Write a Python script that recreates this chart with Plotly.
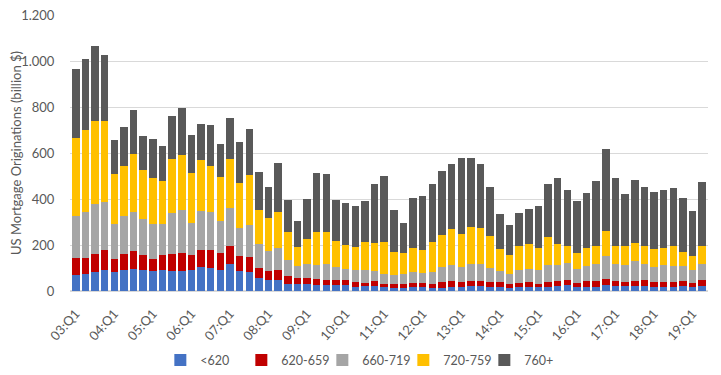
import plotly.graph_objects as go

quarters = [f"{y:02d}:Q{q}" for y in range(3, 20) for q in range(1, 5)][:66]

s_lt620 = [71, 73, 83, 90, 81, 90, 97, 90, 86, 90, 87, 87, 90, 104, 100, 93, 116, 87, 83, 57,
           47, 48, 32, 29, 32, 27, 26, 25, 24, 17, 20, 20, 16, 15, 15, 17, 17, 15, 15, 18,
           17, 20, 20, 17, 17, 15, 17, 17, 17, 17, 20, 25, 17, 17, 17, 25, 22, 20, 20, 22,
           17, 17, 17, 20, 17, 22]
s_620_659 = [72, 70, 77, 87, 60, 70, 76, 65, 55, 65, 73, 78, 65, 73, 77, 72, 78, 64, 65, 43,
             42, 44, 34, 27, 24, 24, 20, 21, 22, 23, 15, 22, 16, 17, 14, 18, 18, 17, 25, 26,
             22, 23, 24, 22, 20, 14, 18, 22, 15, 22, 23, 21, 18, 25, 25, 26, 20, 19, 22, 24,
             22, 22, 22, 23, 18, 24]
s_660_719 = [185, 201, 217, 210, 152, 166, 171, 160, 149, 138, 181, 186, 142, 170, 167, 138, 169, 123, 141, 103,
             87, 95, 67, 52, 60, 62, 70, 58, 51, 50, 56, 45, 44, 36, 44, 46, 43, 49, 65, 68,
             64, 73, 75, 62, 52, 47, 58, 58, 58, 73, 72, 77, 62, 67, 77, 100, 74, 73, 87, 73,
             65, 73, 70, 64, 55, 70]
s_720_759 = [337, 355, 361, 352, 214, 216, 250, 210, 200, 184, 232, 239, 216, 221, 200, 193, 210, 197, 214, 148,
             140, 156, 124, 85, 110, 142, 140, 113, 102, 101, 122, 122, 137, 102, 92, 106, 102, 132, 138, 159,
             144, 162, 154, 138, 93, 79, 103, 106, 97, 123, 88, 73, 68, 78, 77, 110, 80, 84, 80, 77,
             79, 75, 87, 63, 61, 80]
s_760p = [302, 311, 326, 286, 148, 170, 192, 148, 170, 155, 187, 207, 164, 160, 176, 145, 179, 177, 200, 165,
          138, 215, 137, 112, 174, 260, 254, 177, 183, 177, 177, 256, 286, 181, 131, 217, 232, 252, 278, 280,
          330, 299, 278, 212, 152, 131, 143, 152, 181, 230, 287, 242, 225, 239, 281, 355, 294, 224, 272, 255,
          246, 251, 251, 233, 196, 277]

series_names = ["<620", "620-659", "660-719", "720-759", "760+"]
series_vals = [s_lt620, s_620_659, s_660_719, s_720_759, s_760p]
colors = ["#4472C4", "#C00000", "#A5A5A5", "#FFC000", "#595959"]

tick_idx = list(range(0, 66, 4))
tick_text = [quarters[i] for i in tick_idx]

fig = go.Figure()
for name, vals, c in zip(series_names, series_vals, colors):
    fig.add_trace(go.Bar(x=list(range(66)), y=vals, name=name, marker=dict(color=c, line=dict(width=0))))

font = "Lato, 'Open Sans', sans-serif"
# page body has an 8px margin, so the figure is offset by (8, 8)
fig.update_layout(
    barmode="stack",
    bargap=0.22,
    width=713, height=367,
    margin=dict(l=62, r=13, t=7, b=84, autoexpand=False),
    plot_bgcolor="white", paper_bgcolor="white",
    separators=",.",
    font=dict(family=font, size=12, color="#595959"),
    legend=dict(orientation="h", x=0.459, xanchor="center", y=-0.251, yanchor="middle",
                font=dict(size=12.5, color="#595959"), traceorder="normal",
                itemwidth=30, tracegroupgap=0, entrywidth=36, entrywidthmode="pixels"),
    xaxis=dict(tickmode="array", tickvals=tick_idx, ticktext=tick_text, tickangle=-48,
               showgrid=False, showline=False, zeroline=False, range=[-0.6, 65.6],
               tickfont=dict(size=13, color="#595959"), ticks="outside", ticklen=9,
               tickcolor="rgba(0,0,0,0)", automargin=False, ticklabeloverflow="allow"),
    yaxis=dict(range=[0, 1200], dtick=200, tickformat=",d", showgrid=True,
               gridcolor="#D9D9D9", gridwidth=1, zeroline=True, zerolinecolor="#D9D9D9",
               showline=False, ticks="outside", ticklen=12, tickcolor="rgba(0,0,0,0)",
               automargin=False, ticklabeloverflow="allow",
               tickfont=dict(size=13, color="#595959"),
               title=dict(text="US Mortgage Originations (billion $)", font=dict(size=13, color="#595959"),
                          standoff=4)),
)

fig.write_html("out.html")
